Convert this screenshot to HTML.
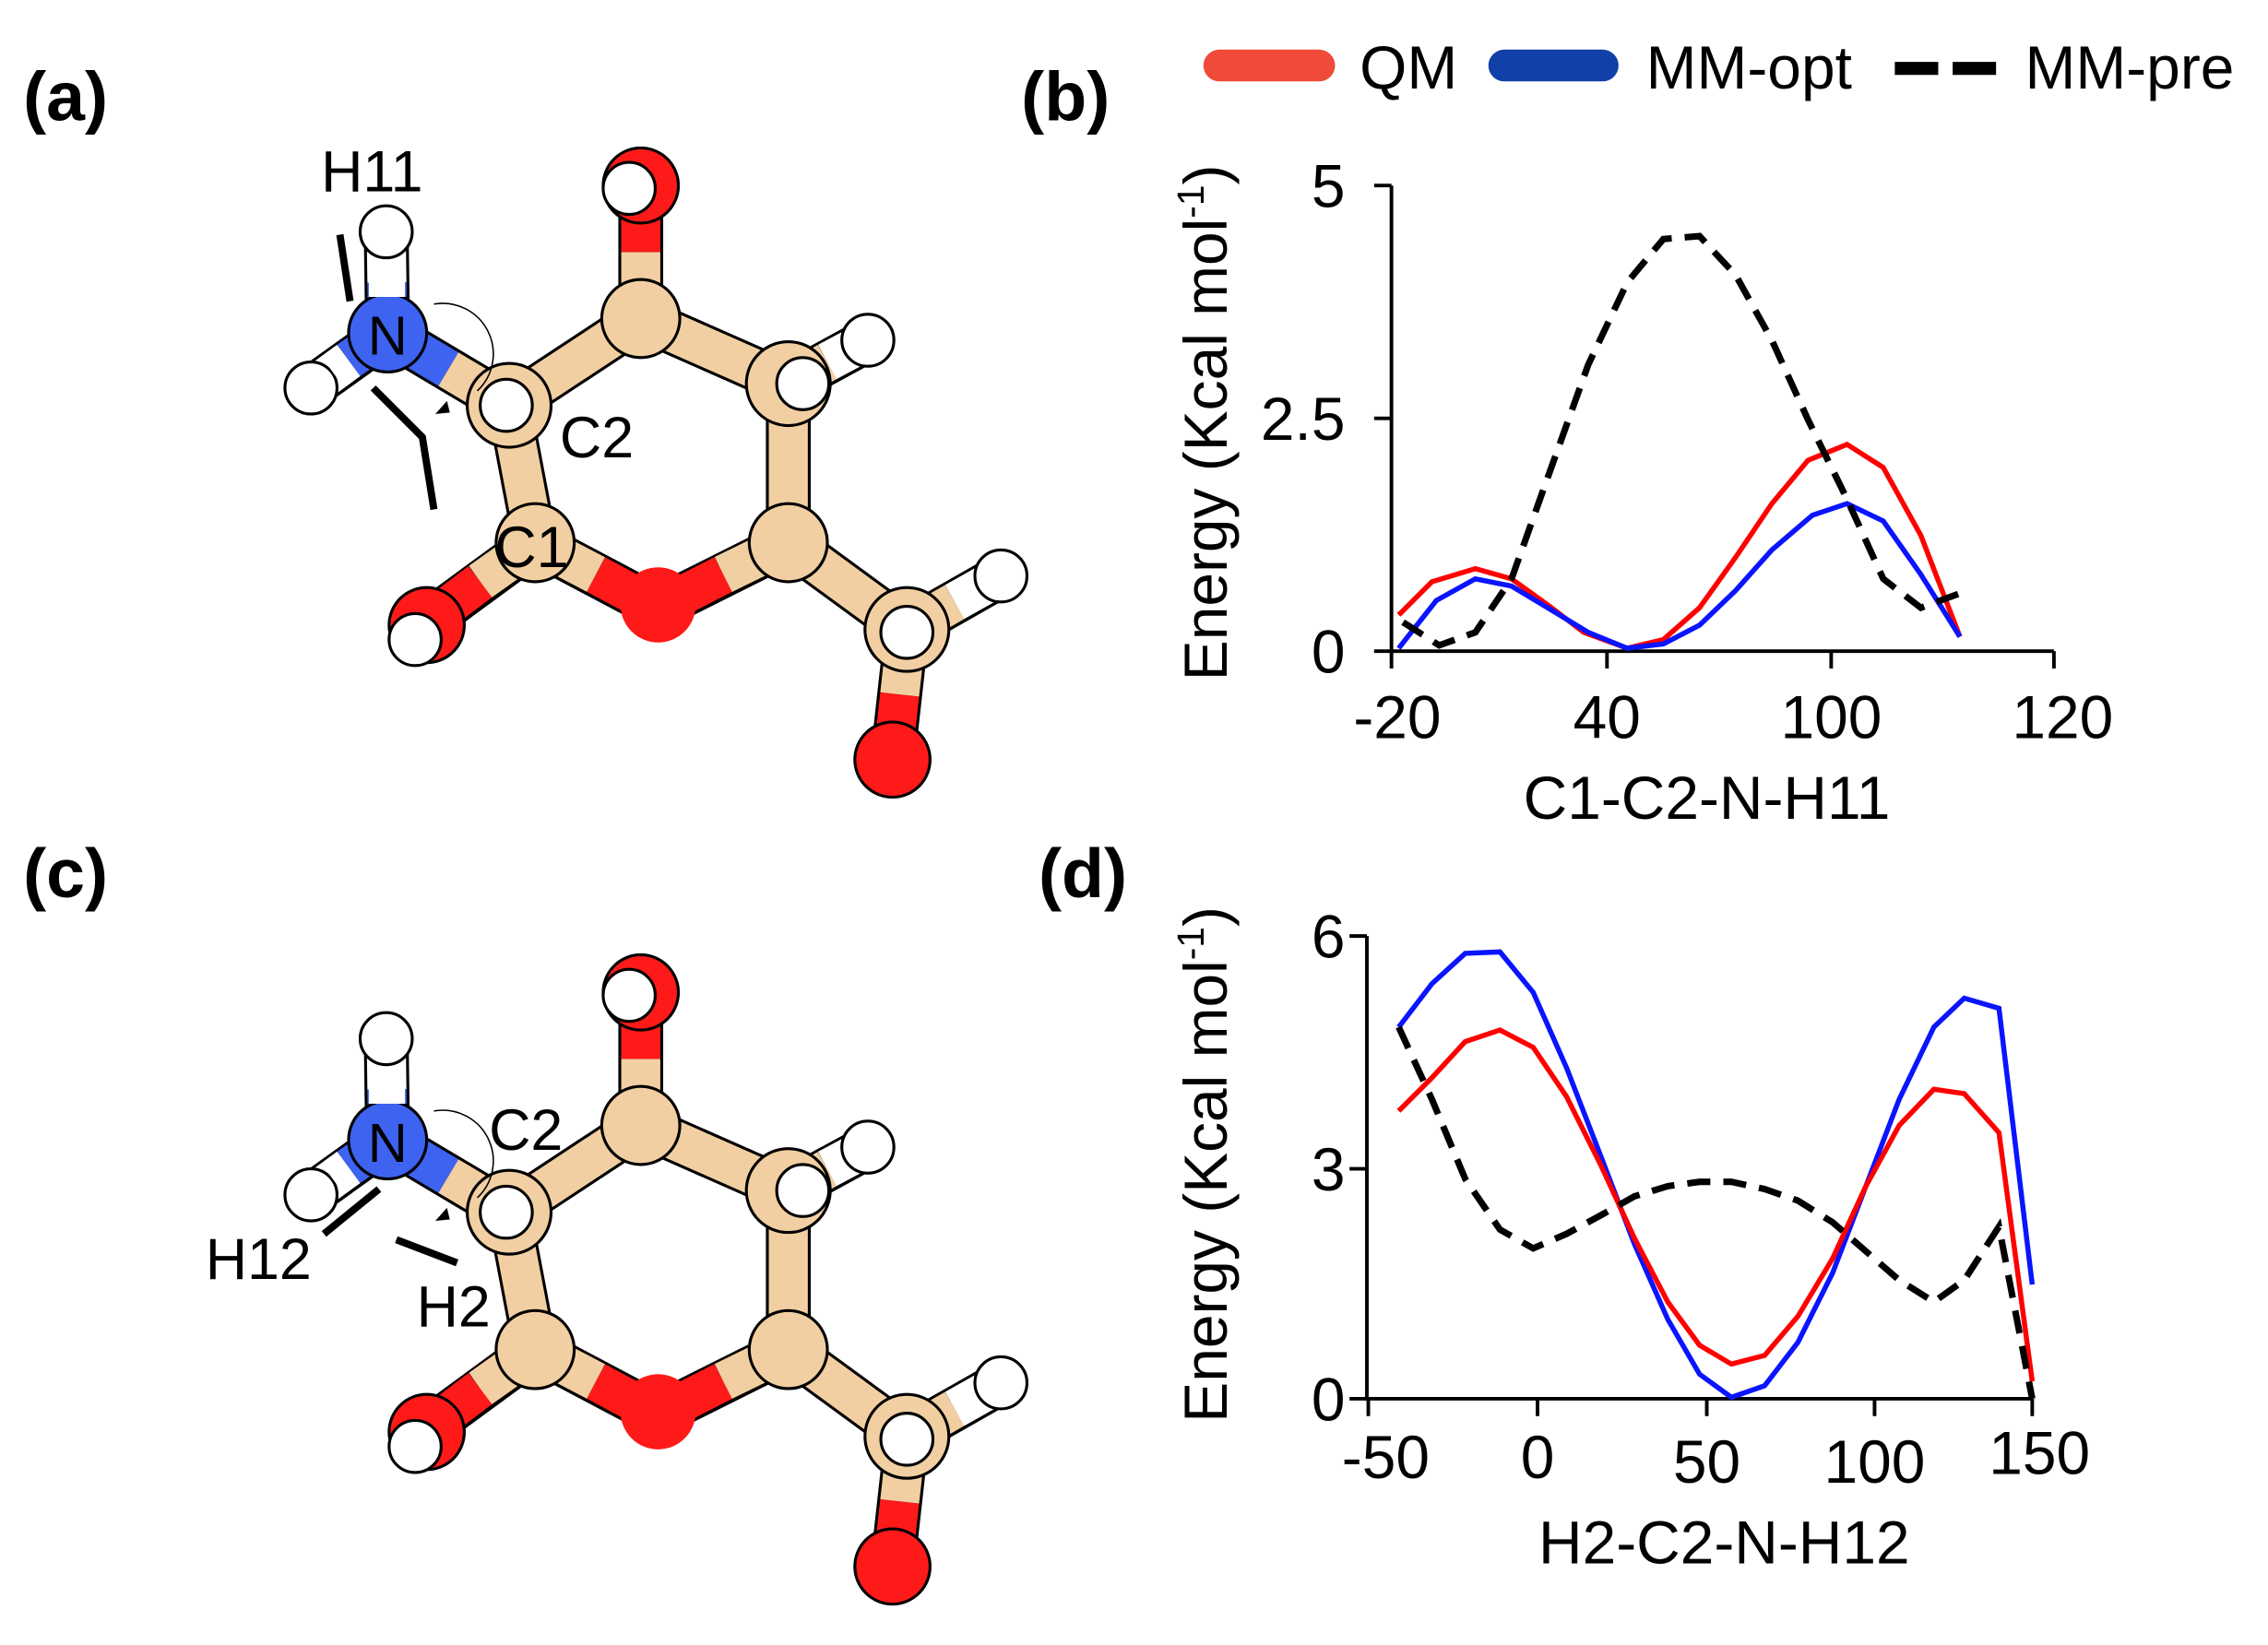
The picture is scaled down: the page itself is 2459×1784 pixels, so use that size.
<!DOCTYPE html>
<html><head><meta charset="utf-8"><style>
html,body{margin:0;padding:0;background:#fff;}
svg{display:block;}
text{font-family:"Liberation Sans",Arial,sans-serif;fill:#000;}
</style></head><body>
<svg width="2459" height="1784" viewBox="0 0 1568 1137" xmlns="http://www.w3.org/2000/svg">
<defs>
<g id="mol">
  <!-- bond outlines -->
  <g stroke="#000" stroke-width="31" stroke-linecap="butt">
    <line x1="352" y1="280" x2="443" y2="220"/>
    <line x1="443" y1="220" x2="545" y2="265"/>
    <line x1="545" y1="265" x2="545" y2="375"/>
    <line x1="545" y1="375" x2="455" y2="420"/>
    <line x1="455" y1="420" x2="370" y2="375"/>
    <line x1="370" y1="375" x2="352" y2="280"/>
    <line x1="443" y1="220" x2="443" y2="128"/>
    <line x1="370" y1="375" x2="295" y2="430"/>
    <line x1="545" y1="375" x2="627" y2="435"/>
    <line x1="627" y1="435" x2="617" y2="525"/>
    <line x1="352" y1="280" x2="268" y2="230"/>
    <line x1="545" y1="265" x2="600" y2="235"/>
    <line x1="627" y1="435" x2="692" y2="398"/>
    <line x1="268" y1="230" x2="267" y2="160"/>
    <line x1="268" y1="230" x2="215" y2="268"/>
  </g>
  <!-- bond fills -->
  <g stroke-width="27" stroke-linecap="butt">
    <g stroke="#f2cfa2">
      <line x1="352" y1="280" x2="443" y2="220"/>
      <line x1="443" y1="220" x2="545" y2="265"/>
      <line x1="545" y1="265" x2="545" y2="375"/>
      <line x1="370" y1="375" x2="352" y2="280"/>
      <line x1="545" y1="375" x2="500" y2="397"/>
      <line x1="370" y1="375" x2="412" y2="397"/>
      <line x1="443" y1="220" x2="443" y2="174"/>
      <line x1="370" y1="375" x2="332" y2="402"/>
      <line x1="545" y1="375" x2="627" y2="435"/>
      <line x1="627" y1="435" x2="622" y2="480"/>
      <line x1="352" y1="280" x2="310" y2="255"/>
      <line x1="545" y1="265" x2="572" y2="250"/>
      <line x1="627" y1="435" x2="660" y2="416"/>
    </g>
    <g stroke="#ff1a1a">
      <line x1="500" y1="397" x2="455" y2="420"/>
      <line x1="412" y1="397" x2="455" y2="420"/>
      <line x1="443" y1="174" x2="443" y2="128"/>
      <line x1="332" y1="402" x2="295" y2="430"/>
      <line x1="622" y1="480" x2="617" y2="525"/>
    </g>
    <g stroke="#3d63f0">
      <line x1="310" y1="255" x2="268" y2="230"/>
      <line x1="268" y1="230" x2="267.5" y2="195"/>
      <line x1="268" y1="230" x2="241" y2="249"/>
    </g>
    <g stroke="#fff">
      <line x1="267.5" y1="195" x2="267" y2="160"/>
      <line x1="241" y1="249" x2="215" y2="268"/>
      <line x1="572" y1="250" x2="600" y2="235"/>
      <line x1="660" y1="416" x2="692" y2="398"/>
    </g>
  </g>
  <!-- atoms -->
  <g stroke="#000" stroke-width="2">
    <circle cx="443" cy="128" r="26" fill="#ff1a1a"/>
    <circle cx="295" cy="432" r="26" fill="#ff1a1a"/>
    <circle cx="617" cy="525" r="26" fill="#ff1a1a"/>
    <circle cx="455" cy="418" r="26" fill="#ff1a1a" stroke="none"/>
    <circle cx="443" cy="220" r="27" fill="#f2cfa2"/>
    <circle cx="545" cy="265" r="29" fill="#f2cfa2"/>
    <circle cx="545" cy="375" r="27" fill="#f2cfa2"/>
    <circle cx="370" cy="375" r="27" fill="#f2cfa2"/>
    <circle cx="352" cy="280" r="29" fill="#f2cfa2"/>
    <circle cx="627" cy="435" r="29" fill="#f2cfa2"/>
    <circle cx="268" cy="230" r="27" fill="#3d63f0"/>
    <circle cx="267" cy="160" r="18" fill="#fff"/>
    <circle cx="215" cy="268" r="18" fill="#fff"/>
    <circle cx="600" cy="235" r="18" fill="#fff"/>
    <circle cx="692" cy="398" r="18" fill="#fff"/>
    <circle cx="435" cy="130" r="18" fill="#fff"/>
    <circle cx="287" cy="442" r="18" fill="#fff"/>
    <circle cx="555" cy="265" r="18" fill="#fff"/>
    <circle cx="350" cy="280" r="18" fill="#fff"/>
    <circle cx="627" cy="437" r="18" fill="#fff"/>
  </g>
  <!-- hide inner outline segments -->
  <g stroke-width="25">
    <line x1="267.5" y1="205" x2="267.5" y2="185" stroke="#fff"/>
    <line x1="241" y1="249" x2="230" y2="257" stroke="#fff"/>
  </g>
  <path d="M300,210 A35,35 0 0 1 330,270" fill="none" stroke="#000" stroke-width="1"/>
  <path d="M301,286 l8,-9 l2,8 z" fill="#000"/>
  <text x="268" y="245" font-size="38" text-anchor="middle">N</text>
</g>
</defs>

<!-- panel a -->
<use href="#mol"/>
<text x="222" y="132" font-size="40">H11</text>
<text x="387" y="316" font-size="40">C2</text>
<text x="342" y="392" font-size="40">C1</text>
<line x1="235" y1="162" x2="242" y2="208" stroke="#000" stroke-width="5"/>
<polyline points="258,268 292,302 300,352" fill="none" stroke="#000" stroke-width="5"/>

<!-- panel c -->
<use href="#mol" transform="translate(0,558)"/>
<text x="338" y="795" font-size="40">C2</text>
<text x="142" y="884" font-size="40">H12</text>
<text x="288" y="917" font-size="40">H2</text>
<line x1="224" y1="853" x2="262" y2="822" stroke="#000" stroke-width="5"/>
<line x1="274" y1="857" x2="316" y2="873" stroke="#000" stroke-width="5"/>

<!-- panel labels -->
<text x="16" y="83" font-size="48" font-weight="bold">(a)</text>
<text x="706" y="83" font-size="48" font-weight="bold">(b)</text>
<text x="16" y="620" font-size="48" font-weight="bold">(c)</text>
<text x="718" y="620" font-size="48" font-weight="bold">(d)</text>

<!-- legend -->
<line x1="843" y1="45" x2="912" y2="45" stroke="#f04a3a" stroke-width="22" stroke-linecap="round"/>
<text x="940" y="61" font-size="42">QM</text>
<line x1="1040" y1="45" x2="1108" y2="45" stroke="#1040a8" stroke-width="22" stroke-linecap="round"/>
<text x="1138" y="61" font-size="42">MM-opt</text>
<line x1="1310" y1="47" x2="1385" y2="47" stroke="#000" stroke-width="9" stroke-dasharray="30,10"/>
<text x="1400" y="61" font-size="42">MM-pre</text>

<!-- plot b -->
<g stroke="#000" stroke-width="2.5" fill="none">
  <polyline points="962,128 962,450 1420,450"/>
  <line x1="950" y1="128" x2="962" y2="128"/>
  <line x1="950" y1="289" x2="962" y2="289"/>
  <line x1="950" y1="450" x2="962" y2="450"/>
  <line x1="962" y1="450" x2="962" y2="462"/>
  <line x1="1111" y1="450" x2="1111" y2="462"/>
  <line x1="1266" y1="450" x2="1266" y2="462"/>
  <line x1="1420" y1="450" x2="1420" y2="462"/>
</g>
<g font-size="42" text-anchor="end">
  <text x="930" y="143">5</text>
  <text x="930" y="304">2.5</text>
  <text x="930" y="465">0</text>
</g>
<g font-size="42" text-anchor="middle">
  <text x="966" y="510">-20</text>
  <text x="1111" y="510">40</text>
  <text x="1266" y="510">100</text>
  <text x="1426" y="510">120</text>
  <text x="1180" y="566">C1-C2-N-H11</text>
</g>
<text transform="translate(848,292) rotate(-90)" font-size="42" text-anchor="middle">Energy (Kcal mol<tspan font-size="26" dy="-16">-1</tspan><tspan dy="16">)</tspan></text>
<polyline fill="none" stroke="#ff0000" stroke-width="3.5" points="967,425 990,402 1020,393 1045,400 1070,418 1095,437 1125,448 1150,442 1175,420 1200,385 1225,348 1250,318 1277,307 1302,323 1328,370 1355,440"/>
<polyline fill="none" stroke="#0a14ff" stroke-width="3.5" points="967,448 993,415 1020,400 1045,405 1070,420 1098,437 1125,448 1150,445 1175,432 1200,408 1225,380 1253,356 1277,348 1302,360 1328,397 1355,440"/>
<polyline fill="none" stroke="#000" stroke-width="4.5" stroke-dasharray="16,9" points="970,430 995,446 1020,437 1045,400 1070,330 1098,252 1125,195 1150,165 1175,163 1200,190 1225,235 1250,290 1277,345 1302,400 1328,420 1355,410"/>

<!-- plot d -->
<g stroke="#000" stroke-width="2.5" fill="none">
  <polyline points="945,647 945,967 1405,967"/>
  <line x1="933" y1="647" x2="945" y2="647"/>
  <line x1="933" y1="808" x2="945" y2="808"/>
  <line x1="933" y1="967" x2="945" y2="967"/>
  <line x1="946" y1="967" x2="946" y2="979"/>
  <line x1="1063" y1="967" x2="1063" y2="979"/>
  <line x1="1180" y1="967" x2="1180" y2="979"/>
  <line x1="1296" y1="967" x2="1296" y2="979"/>
  <line x1="1405" y1="967" x2="1405" y2="979"/>
</g>
<g font-size="42" text-anchor="end">
  <text x="930" y="662">6</text>
  <text x="930" y="823">3</text>
  <text x="930" y="982">0</text>
</g>
<g font-size="42" text-anchor="middle">
  <text x="958" y="1022">-50</text>
  <text x="1063" y="1022">0</text>
  <text x="1180" y="1025">50</text>
  <text x="1296" y="1025">100</text>
  <text x="1410" y="1019">150</text>
  <text x="1192" y="1081">H2-C2-N-H12</text>
</g>
<text transform="translate(848,805) rotate(-90)" font-size="42" text-anchor="middle">Energy (Kcal mol<tspan font-size="26" dy="-16">-1</tspan><tspan dy="16">)</tspan></text>
<polyline fill="none" stroke="#0a14ff" stroke-width="3.5" points="967,710 990,680 1013,659 1037,658 1060,686 1083,738 1107,800 1130,860 1153,912 1175,950 1197,966 1220,958 1243,928 1267,880 1290,820 1313,760 1337,710 1358,690 1382,697 1405,888"/>
<polyline fill="none" stroke="#ff0000" stroke-width="3.5" points="967,768 990,745 1013,720 1037,712 1060,724 1083,758 1107,806 1130,856 1153,900 1175,930 1197,943 1220,937 1243,910 1267,870 1290,820 1313,778 1337,753 1358,756 1382,783 1405,955"/>
<polyline fill="none" stroke="#000" stroke-width="4.5" stroke-dasharray="16,9" points="967,710 990,760 1013,815 1037,850 1060,863 1083,853 1107,840 1130,827 1153,820 1175,817 1197,817 1220,822 1243,830 1267,845 1290,865 1313,885 1337,900 1358,885 1382,848 1405,967"/>
</svg>
</body></html>
